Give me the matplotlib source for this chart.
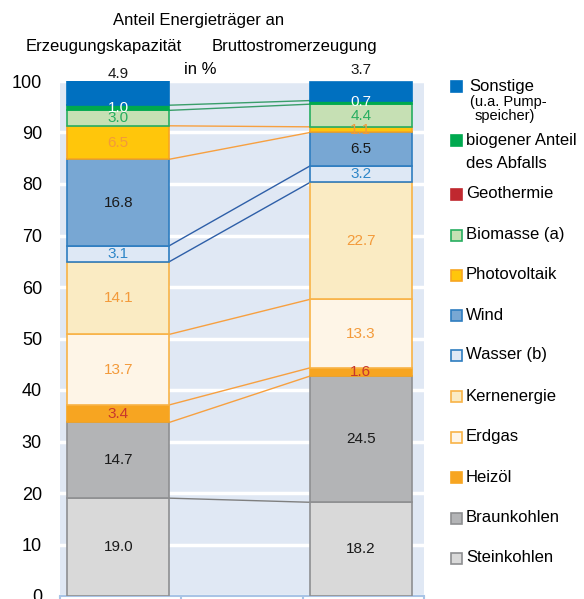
import matplotlib.pyplot as plt
from matplotlib.patches import Rectangle
import numpy as np

plt.rcParams['font.family'] = ['Liberation Sans', 'DejaVu Sans']

# data, bottom to top
traeger = ["Steinkohlen", "Braunkohlen", "Heizöl", "Erdgas", "Kernenergie",
           "Wasser (b)", "Wind", "Geothermie", "Photovoltaik", "Biomasse (a)",
           "biogener Anteil", "Sonstige"]
kapazitaet = [19.0, 14.7, 3.4, 13.7, 14.1, 3.1, 16.8, 0.0, 6.5, 3.0, 1.0, 4.9]
erzeugung = [18.2, 24.5, 1.6, 13.3, 22.7, 3.2, 6.5, 0.0, 1.1, 4.4, 0.7, 3.7]
kategorien = ["Erzeugungskapazität", "", "Bruttostromerzeugung"]

fill = ["#D9D9D9", "#B3B4B6", "#F7A521", "#FEF5E7", "#FAEBC3", "#DEE8F5",
        "#78A7D3", "#C0282F", "#FFC60B", "#C6E0B4", "#00A94F", "#0070C0"]
edge = ["#8E8F91", "#8E8F91", "#F7A521", "#F8B347", "#F8B347", "#2E7DC0",
        "#2E7DC0", "#C0282F", "#F7A521", "#27AE60", "#00A94F", "#0070C0"]
txtcol = ["#1A1A1A", "#1A1A1A", "#C8372D", "#F39A3A", "#F39A3A", "#2E86C8",
          "#1A1A1A", "#C8372D", "#F39A3A", "#27AE60", "#FFFFFF", "#1A1A1A"]

# connecting lines: (top of segment index, colour)
verbindungen = [(0, "#7F7F7F"), (1, "#F7A040"), (2, "#F7A040"), (3, "#F7A040"),
                (4, "#2E5FA8"), (5, "#2E5FA8"), (6, "#F7A040"), (8, "#F7A040"),
                (9, "#3A9E6A"), (10, "#3A9E6A")]

W, H = 584, 599
fig = plt.figure(figsize=(W / 100, H / 100), dpi=100)
ax = fig.add_axes([60 / W, 1 - 596 / H, 364 / W, 515 / H])
ax.set_facecolor("#E0E8F4")
ax.set_xlim(-0.48, 2.52)
ax.set_ylim(0, 100)
ax.set_yticks(np.arange(0, 101, 10))
ax.yaxis.grid(True, color="white", linewidth=2.5)
ax.set_axisbelow(True)
for s in ["top", "right", "left"]:
    ax.spines[s].set_visible(False)
ax.spines["bottom"].set_color("#A9C4E6")
ax.spines["bottom"].set_linewidth(1.5)
ax.tick_params(axis="y", length=0, labelsize=13, pad=13)
ax.set_xticks([-0.48, 0.52, 1.52, 2.52])
ax.set_xticklabels([])
ax.tick_params(axis="x", length=8, color="#A9C4E6", width=1.5)

bw = 0.84
for xi, werte in [(0, kapazitaet), (2, erzeugung)]:
    unten = 0
    for i, v in enumerate(werte):
        if v > 0:
            ax.bar(xi, v, bw, bottom=unten, color=fill[i], edgecolor=edge[i],
                   linewidth=1.2, zorder=3)
            if i == len(werte) - 1:
                ty = 101.3 if xi == 0 else 102.2
                ax.text(xi, ty, f"{v:.1f}", ha="center", va="center",
                        fontsize=11, color=txtcol[i], zorder=4, clip_on=False)
            else:
                ax.text(xi, unten + v / 2, f"{v:.1f}", ha="center", va="center",
                        fontsize=11, color=txtcol[i], zorder=4)
        unten += v

cum_l = np.cumsum(kapazitaet)
cum_r = np.cumsum(erzeugung)
for idx, c in verbindungen:
    ax.plot([bw / 2, 2 - bw / 2], [cum_l[idx], cum_r[idx]], color=c,
            linewidth=1.0, zorder=2)

# titles
def fx(x):
    return x / W

def fy(y):
    return 1 - y / H

fig.text(fx(199), fy(21), "Anteil Energieträger an", ha="center", va="center", fontsize=12)
fig.text(fx(104), fy(47), kategorien[0], ha="center", va="center", fontsize=12)
fig.text(fx(294), fy(47), kategorien[2], ha="center", va="center", fontsize=12)
fig.text(fx(200), fy(70), "in %", ha="center", va="center", fontsize=12)

# legend
leg_y = {11: 86, 10: 140, 7: 194, 9: 235, 8: 275, 6: 315, 5: 355, 4: 396,
         3: 437, 2: 477, 1: 518, 0: 558}
leg_text = {11: "Sonstige", 10: "biogener Anteil", 7: "Geothermie", 9: "Biomasse (a)",
            8: "Photovoltaik", 6: "Wind", 5: "Wasser (b)", 4: "Kernenergie",
            3: "Erdgas", 2: "Heizöl", 1: "Braunkohlen", 0: "Steinkohlen"}
for i, y in leg_y.items():
    fig.patches.append(Rectangle((fx(451), fy(y + 6)), 11 / W, 11 / H,
                                 transform=fig.transFigure, facecolor=fill[i],
                                 edgecolor=edge[i], linewidth=1.2))
    tx = 469 if i == 11 else 466
    fig.text(fx(tx), fy(y), leg_text[i], ha="left", va="center", fontsize=12)
fig.text(fx(470), fy(102), "(u.a. Pump-", ha="left", va="center", fontsize=10.5)
fig.text(fx(475), fy(116), "speicher)", ha="left", va="center", fontsize=10.5)
fig.text(fx(466), fy(163), "des Abfalls", ha="left", va="center", fontsize=12)

fig.savefig("out.png", dpi=100)
